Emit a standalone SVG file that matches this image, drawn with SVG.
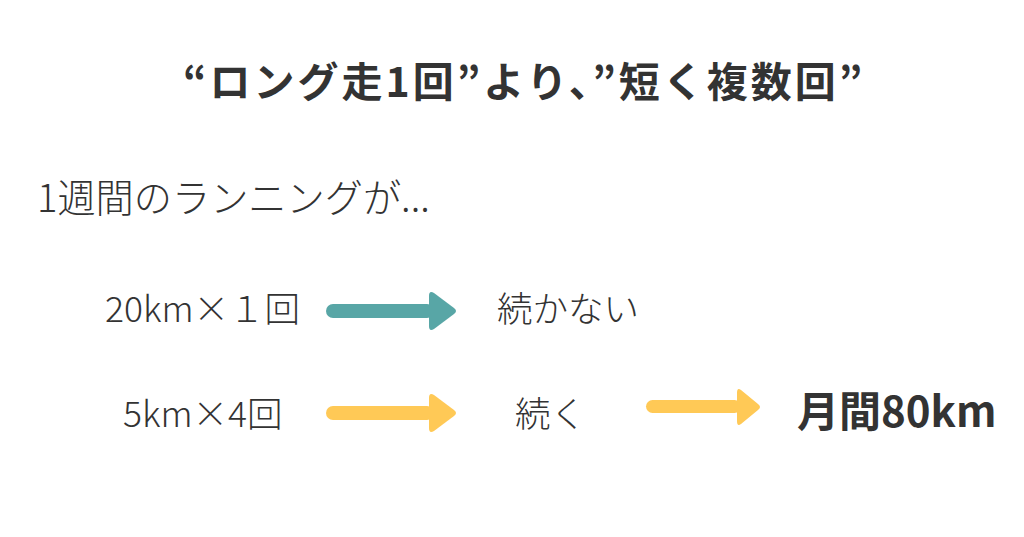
<svg xmlns="http://www.w3.org/2000/svg" width="1024" height="537" viewBox="0 0 1024 537">
<style>
text{font-family:"Noto Sans CJK JP","Noto Sans",sans-serif;fill:#333333}
.t{font-size:41px;font-weight:700;letter-spacing:3px}
.b{font-size:35.5px;font-weight:300}
.big{font-size:42px;font-weight:700}
.teal{fill:#58A6A6}
.yel{fill:#FFC956}
</style>
<rect width="1024" height="537" fill="#ffffff"/>
<g id="title"><text class="t" x="183" y="97">“ロング走1回”より、”短く複数回”</text></g>
<g id="intro"><text class="b" x="37" y="212" style="font-size:38.2px">1週間のランニングが...</text></g>
<g id="node-20km"><text class="b" x="105" y="322">20km×１回</text></g>
<g id="node-tsuzukanai"><text class="b" x="497" y="322">続かない</text></g>
<g id="node-5km"><text class="b" x="123" y="427">5km×4回</text></g>
<g id="node-tsuzuku"><text class="b" x="515" y="427">続く</text></g>
<g id="node-80km"><text class="big" x="797" y="427">月間80km</text></g>
<g id="connectors">
<g class="teal">
<rect x="326" y="304" width="108" height="14" rx="7"/>
<path d="M429 296 Q429 290 434 293 L454 308 Q458 311 454 314 L434 329 Q429 332 429 326 Z"/>
</g>
<g class="yel">
<rect x="326" y="406" width="108" height="14" rx="7"/>
<path d="M429 398 Q429 392 434 395 L454 410 Q458 413 454 416 L434 431 Q429 434 429 428 Z"/>
</g>
<g class="yel">
<rect x="646" y="400" width="95" height="13" rx="6.5"/>
<path d="M737 393 Q737 387 741 390 L758 404 Q762 407 758 410 L741 424 Q737 427 737 421 Z"/>
</g>
</g>
</svg>
